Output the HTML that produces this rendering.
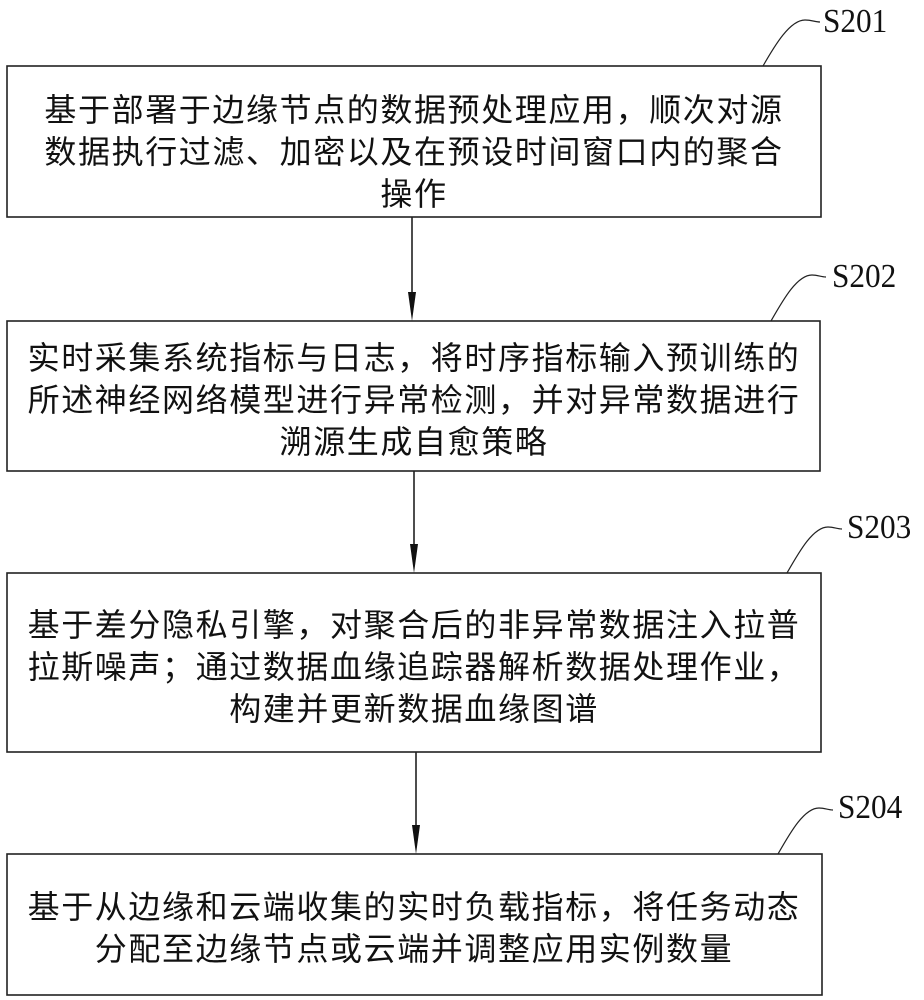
<!DOCTYPE html>
<html><head><meta charset="utf-8"><style>
html,body{margin:0;padding:0;background:#fff;}
body{width:924px;height:1000px;position:relative;overflow:hidden;}
.t{position:absolute;left:0;width:828px;text-align:center;font-family:"Liberation Serif","Noto Sans CJK SC",sans-serif;font-size:32px;line-height:42px;letter-spacing:1.6px;color:#111;white-space:nowrap;}
.l{position:absolute;font-family:"Liberation Serif",serif;font-size:34px;line-height:34px;color:#111;transform:scaleX(0.92);transform-origin:left center;}
</style></head><body>
<svg width="924" height="1000" style="position:absolute;left:0;top:0">
<g fill="none" stroke="#222" stroke-width="1.6">
<rect x="7" y="66" width="814" height="151"/>
<rect x="7" y="321" width="813" height="150"/>
<rect x="7" y="573" width="814" height="179"/>
<rect x="7" y="854" width="815" height="141"/>
<line x1="412" y1="217" x2="412" y2="300"/>
<line x1="414" y1="471" x2="414" y2="552"/>
<line x1="416" y1="752" x2="416" y2="833"/>
<path d="M763 66 C775 45,790 20,805 20 C812 20,815 22,820 22" stroke-width="1.2"/>
<path d="M771 321 C783 300,797 275,812 275 C818 275,821 277,826 277" stroke-width="1.2"/>
<path d="M787 573 C799 552,813 527,828 527 C834 527,837 529,842 529" stroke-width="1.2"/>
<path d="M778 854 C790 833,804 808,819 808 C825 808,828 810,833 810" stroke-width="1.2"/>
</g>
<g fill="#111">
<polygon points="408,292 416,292 412,321"/>
<polygon points="410,544 418,544 414,573"/>
<polygon points="412,825 420,825 416,854"/>
</g>
</svg>
<div class="l" style="left:823px;top:5px">S201</div>
<div class="l" style="left:832px;top:260px">S202</div>
<div class="l" style="left:847px;top:511px">S203</div>
<div class="l" style="left:838px;top:791px">S204</div>
<div class="t" style="top:89px">基于部署于边缘节点的数据预处理应用，顺次对源<br>数据执行过滤、加密以及在预设时间窗口内的聚合<br>操作</div>
<div class="t" style="top:337px">实时采集系统指标与日志，将时序指标输入预训练的<br>所述神经网络模型进行异常检测，并对异常数据进行<br>溯源生成自愈策略</div>
<div class="t" style="top:604px">基于差分隐私引擎，对聚合后的非异常数据注入拉普<br>拉斯噪声；通过数据血缘追踪器解析数据处理作业，<br>构建并更新数据血缘图谱</div>
<div class="t" style="top:886px">基于从边缘和云端收集的实时负载指标，将任务动态<br>分配至边缘节点或云端并调整应用实例数量</div>
</body></html>
